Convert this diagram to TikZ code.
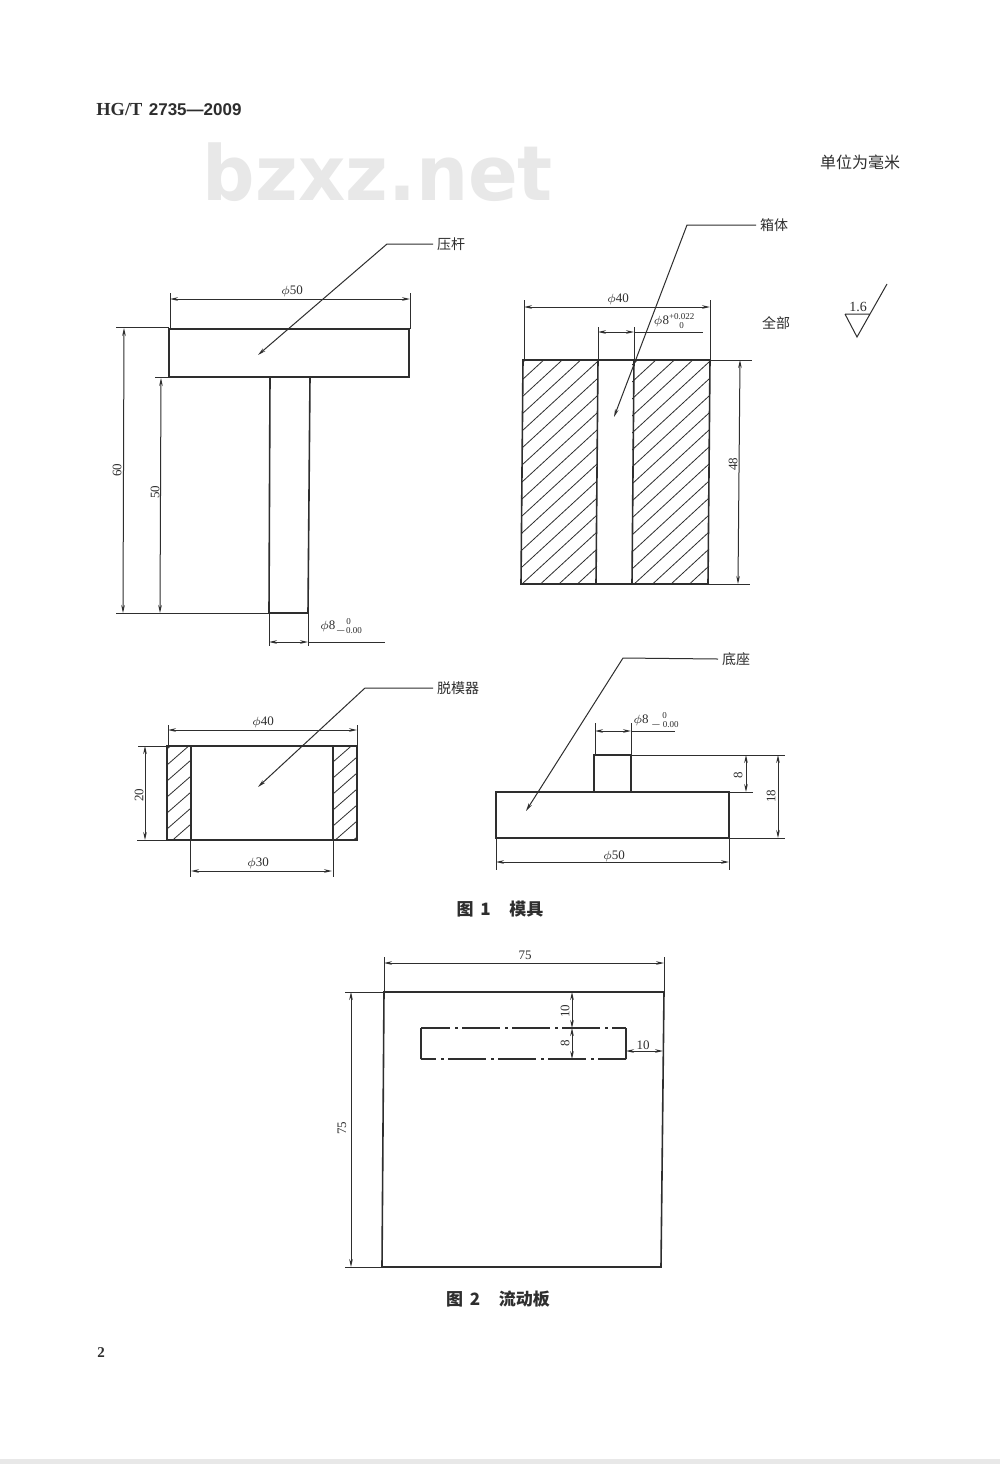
\documentclass[tikz,border=0pt]{standalone}
\usepackage{fontspec}
\setmainfont{Liberation Serif}
\setsansfont{Liberation Sans}
\newfontfamily\cjk{Noto Sans CJK SC}
\newfontfamily\markfont[FakeStretch=0.965]{DejaVu Sans}
\usetikzlibrary{arrows.meta, positioning}
\definecolor{inkline}{HTML}{2E2E2E}
\definecolor{markgray}{HTML}{E8E8E8}
\newcommand{\tolpair}[2]{{\fontsize{4.5}{4.9}\selectfont\begin{tabular}{@{}c@{}}#1\\#2\end{tabular}}}
\tikzset{
    >={Stealth[length=4pt,width=1.8pt]},
    outline/.style={draw=inkline, line width=0.8pt},
    dimline/.style={draw=inkline, line width=0.5pt},
    hatchline/.style={draw=inkline, line width=0.4pt},
    dimtext/.style={inner sep=0pt, text=inkline, font=\fontsize{6.5}{7}\selectfont},
    parttext/.style={inner sep=0pt, outer sep=2pt, text=inkline, font=\cjk\fontsize{7}{8}\selectfont},
    captext/.style={inner sep=0pt, text=inkline, font=\cjk\bfseries\fontsize{8.5}{9}\selectfont},
}

\begin{document}
\begin{tikzpicture}[x=0.5pt, y=-0.5pt]
    \useasboundingbox (0, 0) rectangle (1000, 1464);
    \fill[white] (0, 0) rectangle (1000, 1464);
    \fill[markgray] (0, 1459) rectangle (1000, 1464);

    % page furniture
    \node[inner sep=0pt, text=inkline, anchor=west, font=\bfseries\fontsize{9.2}{10}\selectfont] (header) at (96, 109) {HG/T\hspace{0.35em}{\sffamily\fontsize{8.5}{10}\selectfont 2735---2009}};
    \node[inner sep=0pt, text=markgray, font=\markfont\bfseries\fontsize{38}{40}\selectfont] (mark) at (378, 172) {bzxz.net};
    \node[parttext, font=\cjk\fontsize{8}{9}\selectfont] (unit) at (860, 162) {单位为毫米};
    \node[inner sep=0pt, text=inkline, font=\bfseries\fontsize{7.5}{8}\selectfont] (page) at (101, 1353) {2};
    \node[captext] (capa) at (500, 909) {图\hspace{0.4em}1\hspace{1.1em}模具};
    \node[captext] (capb) at (498, 1299) {图\hspace{0.4em}2\hspace{1.1em}流动板};

    % press rod
    \node[parttext] (rod) at (451, 244) {压杆};
    \node[dimtext] (rodd) at (292, 291) {$\phi$50};
    \node[dimtext, rotate=90] (rodh) at (117, 470) {60};
    \node[dimtext, rotate=90] (rodl) at (155, 492) {50};
    \node[dimtext] (rodt) at (341, 627) {$\phi$8\tolpair{0}{$-$0.00}};
    \draw[outline]
    (169, 329) -- (409, 329) -- (409, 377) -- (169, 377) -- cycle
    (270, 377) -- (269, 613) -- (308, 613) -- (310, 377);
    \draw[dimline]
    (170, 293) -- (170, 329)
    (410, 293) -- (410, 329)
    (116, 327) -- (169, 327)
    (155, 377) -- (169, 377)
    (116, 613) -- (269, 613)
    (269, 613) -- (269, 646)
    (308, 613) -- (308, 646)
    (308, 642) -- (385, 642)
    (170, 299) edge[<->] (410, 299)
    (124, 328) edge[<->] (123, 613)
    (161, 378) edge[<->] (160, 613)
    (269, 642) edge[<->] (308, 642);
    \draw[dimline, ->] (rod.west) -- (387, 244) -- (258, 355);

    % die body
    \node[parttext] (body) at (774, 225) {箱体};
    \node[parttext] (allsurf) at (776, 323) {全部};
    \node[dimtext] (bodyd) at (618, 299) {$\phi$40};
    \node[dimtext] (bodyt) at (674, 322) {$\phi$8\tolpair{+0.022}{0}};
    \node[dimtext, rotate=90] (bodyh) at (733, 464) {48};
    \node[dimtext, font=\fontsize{7}{8}\selectfont] (rough) at (858, 307) {1.6};
    \begin{scope}
        \clip (522, 360) rectangle (597, 584);
        \foreach \y in {363, 380, ..., 653} {
            \draw[hatchline] (522, \y) -- (597, \y - 69);
        }
    \end{scope}
    \begin{scope}
        \clip (632, 360) rectangle (709, 584);
        \foreach \y in {365, 382, ..., 655} {
            \draw[hatchline] (632, \y) -- (709, \y - 71);
        }
    \end{scope}
    \draw[outline]
    (523, 360) -- (521, 584) -- (708, 584) -- (710, 360) -- cycle
    (598, 360) -- (596, 584)
    (634, 360) -- (632, 584);
    \draw[dimline]
    (524, 300) -- (524, 360)
    (710, 300) -- (710, 360)
    (598, 327) -- (598, 360)
    (634, 327) -- (634, 360)
    (634, 332) -- (703, 332)
    (710, 360) -- (752, 360)
    (708, 584) -- (750, 584)
    (524, 307) edge[<->] (710, 307)
    (598, 332) edge[<->] (634, 332)
    (740, 360) edge[<->] (738, 584);
    \draw[dimline, ->] (body.west) -- (687, 225) -- (614, 417);
    \draw[dimline]
    (845, 314) -- (869, 314)
    (845, 314) -- (857, 337) -- (887, 284);

    % stripper
    \node[parttext] (strip) at (458, 688) {脱模器};
    \node[dimtext] (stripd) at (263, 722) {$\phi$40};
    \node[dimtext] (stripi) at (258, 863) {$\phi$30};
    \node[dimtext, rotate=90] (striph) at (139, 795) {20};
    \begin{scope}
        \clip (167, 746) rectangle (191, 840);
        \foreach \y in {749, 765, ..., 861} {
            \draw[hatchline] (167, \y) -- (191, \y - 21);
        }
    \end{scope}
    \begin{scope}
        \clip (333, 746) rectangle (357, 840);
        \foreach \y in {746, 762, ..., 861} {
            \draw[hatchline] (333, \y) -- (357, \y - 21);
        }
    \end{scope}
    \draw[outline]
    (167, 746) -- (357, 746) -- (357, 840) -- (167, 840) -- cycle
    (191, 746) -- (191, 840)
    (333, 746) -- (333, 840);
    \draw[dimline]
    (168, 725) -- (168, 746)
    (357, 725) -- (357, 746)
    (138, 746) -- (167, 746)
    (137, 840) -- (167, 840)
    (190, 840) -- (190, 877)
    (333, 840) -- (333, 877)
    (168, 730) edge[<->] (357, 730)
    (145, 746) edge[<->] (145, 840)
    (191, 871) edge[<->] (332, 871);
    \draw[dimline, ->] (strip.west) -- (365, 688) -- (258, 787);

    % base
    \node[parttext] (base) at (736, 659) {底座};
    \node[dimtext] (baset) at (656, 721) {$\phi$8\hspace{1pt}\tolpair{0}{$-$\,0.00}};
    \node[dimtext] (based) at (614, 856) {$\phi$50};
    \node[dimtext, rotate=90] (basea) at (738, 775) {8};
    \node[dimtext, rotate=90] (baseb) at (771, 796) {18};
    \draw[outline]
    (496, 792) -- (729, 792) -- (729, 838) -- (496, 838) -- cycle
    (594, 792) -- (594, 755) -- (631, 755) -- (631, 792);
    \draw[dimline]
    (595, 723) -- (595, 755)
    (631, 723) -- (631, 755)
    (631, 731) -- (675, 731)
    (631, 755) -- (785, 755)
    (729, 792) -- (753, 792)
    (729, 838) -- (785, 838)
    (496, 838) -- (496, 870)
    (729, 838) -- (729, 870)
    (595, 731) edge[<->] (631, 731)
    (746, 755) edge[<->] (746, 792)
    (778, 755) edge[<->] (778, 838)
    (496, 862) edge[<->] (729, 862);
    \draw[dimline, ->] (base.west) -- (623, 658) -- (526, 811);

    % flow plate
    \node[dimtext] (platew) at (525, 955) {75};
    \node[dimtext, rotate=90] (plateh) at (342, 1128) {75};
    \node[dimtext, rotate=90] (slota) at (565, 1011) {10};
    \node[dimtext, rotate=90] (slotb) at (565, 1043) {8};
    \node[dimtext] (slotc) at (643, 1045) {10};
    \draw[outline]
    (384, 992) -- (664, 992) -- (661, 1267) -- (382, 1267) -- cycle
    (421, 1028) -- (421, 1059)
    (626, 1028) -- (626, 1059);
    \draw[outline, dash pattern=on 19pt off 2.5pt on 1.5pt off 2pt, dash phase=4.5pt]
    (421, 1028) -- (626, 1028);
    \draw[outline, dash pattern=on 19pt off 2.5pt on 1.5pt off 2pt, dash phase=11.5pt]
    (421, 1059) -- (626, 1059);
    \draw[dimline]
    (384, 957) -- (384, 992)
    (664, 957) -- (664, 992)
    (345, 992) -- (384, 992)
    (345, 1267) -- (382, 1267)
    (384, 963) edge[<->] (664, 963)
    (351, 992) edge[<->] (351, 1267)
    (572, 992) edge[<->] (572, 1028)
    (572, 1028) edge[<->] (572, 1059)
    (626, 1051) edge[<->] (663, 1051);
\end{tikzpicture}
\end{document}
